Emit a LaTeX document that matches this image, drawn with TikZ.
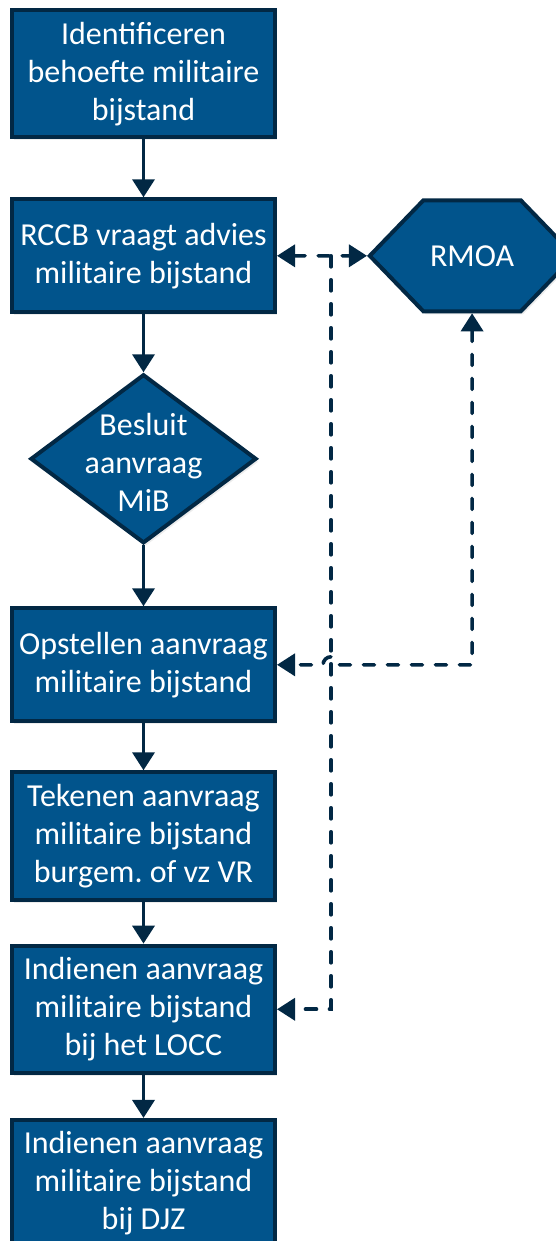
\documentclass[tikz,border=0pt]{standalone}
\usepackage{fontspec}
\setmainfont{Carlito}
\usepackage{xcolor}
\usepackage{tikz}
\usetikzlibrary{shapes.geometric, shapes.symbols, arrows.meta, positioning, calc, shadows}

\definecolor{rijksblauw}{RGB}{1,84,140}
\definecolor{donkerblauw}{RGB}{2,40,68}
\frenchspacing

\begin{document}
\begin{tikzpicture}[
    node distance=29pt,
    >={Triangle[width=11pt,length=9pt]},
    boxtext/.style={text=white, align=center, font=\fontsize{16}{19}\selectfont},
    box/.style={rectangle, draw=donkerblauw, line width=2pt, fill=rijksblauw,
                boxtext, minimum width=131.5pt, minimum height=56.5pt, inner ysep=5.9pt,
                drop shadow={opacity=0.15, shadow xshift=1.2pt, shadow yshift=-1.5pt}},
    decision/.style={diamond, draw=donkerblauw, line width=2pt, fill=rijksblauw,
                minimum width=113pt, minimum height=84.5pt, inner sep=0pt,
                drop shadow={opacity=0.15, shadow xshift=1.2pt, shadow yshift=-1.5pt}},
    hexa/.style={signal, signal to=east and west, signal pointer angle=92,
                draw=donkerblauw, line width=2pt, fill=rijksblauw, boxtext,
                minimum width=97pt, minimum height=55.5pt,
                drop shadow={opacity=0.15, shadow xshift=1.2pt, shadow yshift=-1.5pt}},
    arrow/.style={->, line width=1.8pt, draw=donkerblauw},
    dasharrow/.style={arrow, dash pattern=on 5.5pt off 6.5pt, line cap=round}
]
\useasboundingbox (0,0) rectangle (278pt,-620.5pt);

% === HOOFDLIJN ===
\node[box, anchor=north west] (ident) at (5pt,-4pt) {Identificeren\\behoefte militaire\\bijstand};
\node[box, below=of ident] (advies) {RCCB vraagt advies\\militaire bijstand};
\node[decision, below=of advies,
      label={[boxtext, yshift=-2pt]center:Besluit\\aanvraag\\MiB}] (besluit) {};
\node[box, below=30.5pt of besluit] (opstellen) {Opstellen aanvraag\\militaire bijstand};
\node[box, below=23.5pt of opstellen] (tekenen) {Tekenen aanvraag\\militaire bijstand\\burgem. of vz VR};
\node[box, below=21pt of tekenen] (locc) {Indienen aanvraag\\militaire bijstand\\bij het LOCC};
\node[box, below=21.5pt of locc] (djz) {Indienen aanvraag\\militaire bijstand\\bij DJZ};

% === RMOA ===
\node[hexa, right=45pt of advies] (rmoa) {RMOA};

% === PIJLEN ===
\draw[arrow] (ident) -- (advies);
\draw[arrow] (advies) -- (besluit);
\draw[arrow] (besluit) -- (opstellen);
\draw[arrow] (opstellen) -- (tekenen);
\draw[arrow] (tekenen) -- (locc);
\draw[arrow] (locc) -- (djz);

% === ADVIESLIJNEN ===
\coordinate (split) at ($(advies.east)!0.6!(rmoa.west)$);
\draw[dasharrow, <->] (advies) -- (rmoa);
\draw[dasharrow] (split) |- (locc);
\draw[dasharrow, <->] (rmoa.south) |- ([xshift=4pt]split |- opstellen.east)
    arc[start angle=0, end angle=180, radius=4pt] -- (opstellen);

\end{tikzpicture}
\end{document}
